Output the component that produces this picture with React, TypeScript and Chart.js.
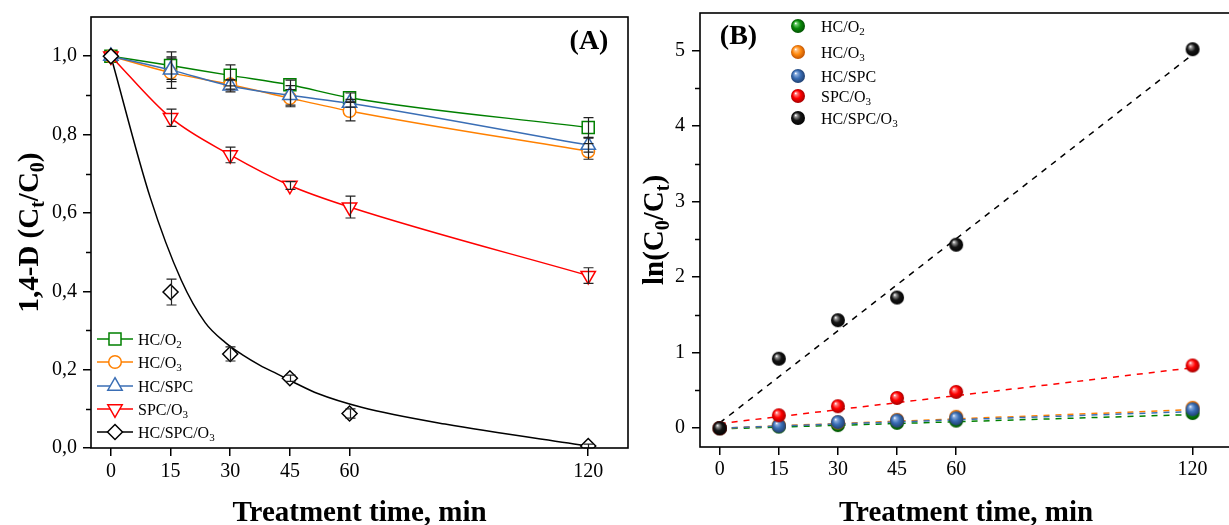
import React, { useEffect, useRef } from 'react';
import { Chart, registerables } from 'chart.js';

Chart.register(...registerables);

const SERIF = "'Liberation Serif', 'Times New Roman', Times, serif";

// ---------------- data ----------------
const times = [0, 15, 30, 45, 60, 120];
const seriesNames = ['HC/O2', 'HC/O3', 'HC/SPC', 'SPC/O3', 'HC/SPC/O3'];

// Panel A : 1,4-D (Ct/C0)
const ctHCO2 = [1.0, 0.976, 0.951, 0.927, 0.894, 0.818];
const ctHCO3 = [1.0, 0.958, 0.928, 0.893, 0.86, 0.757];
const ctHCSPC = [1.0, 0.965, 0.924, 0.9, 0.88, 0.773];
const ctSPCO3 = [1.0, 0.843, 0.748, 0.67, 0.615, 0.44];
const ctHCSPCO3 = [1.0, 0.398, 0.24, 0.178, 0.088, 0.005];

const errHCO2 = [0, 0.035, 0.027, 0.012, 0.012, 0.025];
const errHCO3 = [0, 0.04, 0.012, 0.022, 0.025, 0.02];
const errHCSPC = [0, 0.03, 0.015, 0.025, 0.01, 0.018];
const errSPCO3 = [0, 0.022, 0.02, 0.01, 0.028, 0.02];
const errHCSPCO3 = [0, 0.033, 0.018, 0.008, 0.012, 0.005];

// smooth curve drawn through HC/SPC/O3
const fitTimesA = [0, 9.9, 17.7, 23.7, 28.8, 33.2, 37.5, 41.8, 46.3, 52.0, 63.0, 84.0, 120];
const fitHCSPCO3 = [1.0, 0.639, 0.428, 0.32, 0.269, 0.237, 0.211, 0.189, 0.166, 0.139, 0.104, 0.061, 0.005];

// Panel B : ln(C0/Ct)
const lnHCO2 = [0, 0.02, 0.04, 0.07, 0.1, 0.2];
const lnHCO3 = [0, 0.04, 0.075, 0.11, 0.15, 0.27];
const lnHCSPC = [0, 0.03, 0.08, 0.1, 0.13, 0.25];
const lnSPCO3 = [0, 0.17, 0.29, 0.4, 0.48, 0.83];
const lnHCSPCO3 = [0, 0.92, 1.43, 1.73, 2.43, 5.02];

const fitTimesB = [0, 120];
const lnFitHCO2 = [-0.01, 0.18];
const lnFitHCO3 = [0.0, 0.245];
const lnFitHCSPC = [0.0, 0.22];
const lnFitSPCO3 = [0.06, 0.8];
const lnFitHCSPCO3 = [0.07, 4.95];

// ticks
const xTicks = [0, 15, 30, 45, 60, 120];
const yTicksA = [0, 0.2, 0.4, 0.6, 0.8, 1.0];
const yMinorA = [0.1, 0.3, 0.5, 0.7, 0.9];
const yTicksB = [0, 1, 2, 3, 4, 5];
const yMinorB = [0.5, 1.5, 2.5, 3.5, 4.5];

// ---------------- styles ----------------
const colors = ['#008000', '#FF8000', '#3A6EB5', '#FF0000', '#000000'];
const markerStyles = ['rect', 'circle', 'triangle', 'triangle', 'rectRot'];
const markerRot = [0, 0, 0, 180, 0];
const markerRadius = [8.5, 6.3, 8.3, 8.3, 7.5];
const ballShades = [
  ['#6fd06f', '#0a8a0a', '#004a00'],
  ['#ffc080', '#ff8a10', '#b84c00'],
  ['#8fb0e0', '#3a6eb5', '#1c3a68'],
  ['#ff8080', '#ff0000', '#980000'],
  ['#9a9a9a', '#151515', '#000000'],
];

type Seg = { t: string; sub?: boolean };

function parseLabel(s: string): Seg[] {
  const out: Seg[] = [];
  s.split(/(\d)/).forEach((p) => {
    if (!p) return;
    out.push(/^\d$/.test(p) ? { t: p, sub: true } : { t: p });
  });
  return out;
}

function drawRich(ctx: CanvasRenderingContext2D, segs: Seg[], x: number, y: number, size: number, bold: boolean, align: 'left' | 'center') {
  const f = (s: number) => `${bold ? 'bold ' : ''}${s}px ${SERIF}`;
  const subSize = Math.round(size * 0.68);
  let w = 0;
  segs.forEach((sg) => {
    ctx.font = f(sg.sub ? subSize : size);
    w += ctx.measureText(sg.t).width;
  });
  let cx = align === 'center' ? x - w / 2 : x;
  ctx.textAlign = 'left';
  ctx.textBaseline = 'alphabetic';
  ctx.fillStyle = '#000';
  segs.forEach((sg) => {
    ctx.font = f(sg.sub ? subSize : size);
    ctx.fillText(sg.t, cx, sg.sub ? y + size * 0.22 : y);
    cx += ctx.measureText(sg.t).width;
  });
}

function drawMarker(ctx: CanvasRenderingContext2D, style: string, rot: number, x: number, y: number, r: number, color: string) {
  ctx.save();
  ctx.beginPath();
  ctx.strokeStyle = color;
  ctx.fillStyle = '#fff';
  ctx.lineWidth = 1.5;
  if (style === 'rect') {
    const s = r * Math.SQRT1_2;
    ctx.rect(x - s, y - s, 2 * s, 2 * s);
  } else if (style === 'circle') {
    ctx.arc(x, y, r, 0, Math.PI * 2);
  } else if (style === 'triangle') {
    let a = (rot * Math.PI) / 180;
    ctx.moveTo(x + Math.sin(a) * r, y - Math.cos(a) * r);
    a += (2 * Math.PI) / 3;
    ctx.lineTo(x + Math.sin(a) * r, y - Math.cos(a) * r);
    a += (2 * Math.PI) / 3;
    ctx.lineTo(x + Math.sin(a) * r, y - Math.cos(a) * r);
  } else {
    ctx.moveTo(x, y - r);
    ctx.lineTo(x + r, y);
    ctx.lineTo(x, y + r);
    ctx.lineTo(x - r, y);
  }
  ctx.closePath();
  ctx.fill();
  ctx.stroke();
  ctx.restore();
}

function makeBall(shade: string[]): HTMLCanvasElement {
  const c = document.createElement('canvas');
  c.width = 16;
  c.height = 16;
  const g = c.getContext('2d')!;
  const grad = g.createRadialGradient(5.6, 5.2, 0.3, 8, 8, 7.6);
  grad.addColorStop(0, '#ffffff');
  grad.addColorStop(0.14, shade[0]);
  grad.addColorStop(0.5, shade[1]);
  grad.addColorStop(1, shade[2]);
  g.fillStyle = grad;
  g.beginPath();
  g.arc(8, 8, 7, 0, Math.PI * 2);
  g.fill();
  return c;
}

function frameAndMinor(chart: any, minor: number[]) {
  const { ctx, chartArea } = chart;
  const ys = chart.scales.y;
  ctx.save();
  ctx.strokeStyle = '#000';
  ctx.lineWidth = 1.6;
  ctx.strokeRect(chartArea.left, chartArea.top, chartArea.right - chartArea.left, chartArea.bottom - chartArea.top);
  ctx.lineWidth = 1.5;
  minor.forEach((v) => {
    const py = Math.round(ys.getPixelForValue(v)) + 0.5;
    ctx.beginPath();
    ctx.moveTo(chartArea.left - 5, py);
    ctx.lineTo(chartArea.left, py);
    ctx.stroke();
  });
  ctx.restore();
}

function axisCfg(min: number, max: number, ticks: number[], fmt: (v: number) => string, size: number, isX: boolean, pad: number) {
  return {
    type: 'linear',
    min,
    max,
    afterBuildTicks: (s: any) => {
      s.ticks = ticks.map((v) => ({ value: v }));
    },
    afterFit: (s: any) => {
      if (isX) s.height = size;
      else s.width = size;
      s.paddingLeft = 0;
      s.paddingRight = 0;
      s.paddingTop = 0;
      s.paddingBottom = 0;
    },
    ticks: {
      callback: (v: any) => fmt(Number(v)),
      font: { family: SERIF, size: 20 },
      color: '#000',
      padding: pad,
      maxRotation: 0,
      autoSkip: false,
    },
    grid: { drawOnChartArea: false, drawTicks: true, tickLength: 8, color: '#000', lineWidth: 1.5 },
    border: { display: false },
  };
}

export default function App() {
  const refA = useRef<HTMLCanvasElement>(null);
  const refB = useRef<HTMLCanvasElement>(null);

  useEffect(() => {
    const seriesA = [ctHCO2, ctHCO3, ctHCSPC, ctSPCO3, ctHCSPCO3];
    const errA = [errHCO2, errHCO3, errHCSPC, errSPCO3, errHCSPCO3];
    const seriesB = [lnHCO2, lnHCO3, lnHCSPC, lnSPCO3, lnHCSPCO3];
    const fitsB = [lnFitHCO2, lnFitHCO3, lnFitHCSPC, lnFitSPCO3, lnFitHCSPCO3];
    const balls = ballShades.map(makeBall);

    const dsA: any[] = seriesA.map((vals, i) => ({
      type: 'line',
      label: seriesNames[i],
      data: times.map((t, j) => ({ x: t, y: vals[j] })),
      borderColor: colors[i],
      backgroundColor: '#fff',
      pointBackgroundColor: '#fff',
      pointBorderColor: colors[i],
      pointBorderWidth: 1.5,
      pointStyle: markerStyles[i],
      pointRotation: markerRot[i],
      pointRadius: markerRadius[i],
      borderWidth: 1.5,
      showLine: i !== 4,
      cubicInterpolationMode: 'monotone',
      order: 4 - i,
    }));
    dsA.push({
      type: 'line',
      label: 'fit',
      data: fitTimesA.map((t, j) => ({ x: t, y: fitHCSPCO3[j] })),
      borderColor: '#000',
      borderWidth: 1.5,
      pointRadius: 0,
      cubicInterpolationMode: 'monotone',
      order: 10,
    });

    const pluginA = {
      id: 'panelA',
      afterDatasetsDraw(chart: any) {
        const { ctx } = chart;
        const xs = chart.scales.x;
        const ys = chart.scales.y;
        ctx.save();
        ctx.strokeStyle = '#222';
        ctx.lineWidth = 1.2;
        seriesA.forEach((vals, i) => {
          vals.forEach((v, j) => {
            const e = errA[i][j];
            if (!e) return;
            const px = Math.round(xs.getPixelForValue(times[j])) + 0.5;
            const t = ys.getPixelForValue(v + e);
            const b = ys.getPixelForValue(v - e);
            ctx.beginPath();
            ctx.moveTo(px, t);
            ctx.lineTo(px, b);
            ctx.moveTo(px - 5, t);
            ctx.lineTo(px + 5, t);
            ctx.moveTo(px - 5, b);
            ctx.lineTo(px + 5, b);
            ctx.stroke();
          });
        });
        ctx.restore();
      },
      afterDraw(chart: any) {
        const { ctx, chartArea } = chart;
        frameAndMinor(chart, yMinorA);
        ctx.save();
        // legend
        const rows = [339, 362, 386, 409, 432];
        seriesNames.forEach((n, i) => {
          ctx.strokeStyle = colors[i];
          ctx.lineWidth = 1.5;
          ctx.beginPath();
          ctx.moveTo(97, rows[i]);
          ctx.lineTo(133, rows[i]);
          ctx.stroke();
          drawMarker(ctx, markerStyles[i], markerRot[i], 115, rows[i], markerRadius[i], colors[i]);
          drawRich(ctx, parseLabel(n), 138, rows[i] + 5.5, 16, false, 'left');
        });
        // panel label
        drawRich(ctx, [{ t: '(A)' }], 589, 49, 28, true, 'center');
        // x title
        drawRich(ctx, [{ t: 'Treatment time, min' }], (chartArea.left + chartArea.right) / 2, 521, 29, true, 'center');
        // y title
        ctx.translate(28, (chartArea.top + chartArea.bottom) / 2);
        ctx.rotate(-Math.PI / 2);
        drawRich(ctx, [{ t: '1,4-D (C' }, { t: 't', sub: true }, { t: '/C' }, { t: '0', sub: true }, { t: ')' }], 0, 10, 29, true, 'center');
        ctx.restore();
      },
    };

    const chartA = new Chart(refA.current!, {
      type: 'line',
      data: { datasets: dsA },
      options: {
        animation: false,
        responsive: false,
        layout: { padding: { left: 0, right: 12, top: 17, bottom: 0 } },
        plugins: { legend: { display: false }, tooltip: { enabled: false } },
        scales: {
          x: axisCfg(-5, 130, xTicks, (v) => String(v), 77, true, 4),
          y: axisCfg(0, 1.1, yTicksA, (v) => v.toFixed(1).replace('.', ','), 91, false, 6),
        },
      } as any,
      plugins: [pluginA],
    } as any);

    const dsB: any[] = [];
    seriesB.forEach((vals, i) => {
      dsB.push({
        type: 'line',
        label: seriesNames[i],
        data: times.map((t, j) => ({ x: t, y: vals[j] })),
        showLine: false,
        pointStyle: balls[i],
        pointRadius: 7,
        order: 4 - i,
      });
    });
    fitsB.forEach((vals, i) => {
      dsB.push({
        type: 'line',
        label: seriesNames[i] + ' fit',
        data: fitTimesB.map((t, j) => ({ x: t, y: vals[j] })),
        borderColor: colors[i],
        borderWidth: 1.5,
        borderDash: [6, 6],
        pointRadius: 0,
        order: 20 - i,
      });
    });

    const pluginB = {
      id: 'panelB',
      afterDraw(chart: any) {
        const { ctx, chartArea } = chart;
        frameAndMinor(chart, yMinorB);
        ctx.save();
        const rows = [26, 52, 76, 96, 118];
        seriesNames.forEach((n, i) => {
          ctx.drawImage(balls[i], 158 - 8, rows[i] - 8);
          drawRich(ctx, parseLabel(n), 181, rows[i] + 5.5, 16, false, 'left');
        });
        drawRich(ctx, [{ t: '(B)' }], 98.5, 44, 28, true, 'center');
        drawRich(ctx, [{ t: 'Treatment time, min' }], (chartArea.left + chartArea.right) / 2, 521, 29, true, 'center');
        ctx.translate(13, (chartArea.top + chartArea.bottom) / 2);
        ctx.rotate(-Math.PI / 2);
        drawRich(ctx, [{ t: 'ln(C' }, { t: '0', sub: true }, { t: '/C' }, { t: 't', sub: true }, { t: ')' }], 0, 10, 29, true, 'center');
        ctx.restore();
      },
    };

    const chartB = new Chart(refB.current!, {
      type: 'line',
      data: { datasets: dsB },
      options: {
        animation: false,
        responsive: false,
        layout: { padding: { left: 0, right: 8, top: 13, bottom: 0 } },
        plugins: { legend: { display: false }, tooltip: { enabled: false } },
        scales: {
          x: axisCfg(-5, 130, xTicks, (v) => String(v), 78, true, 3),
          y: axisCfg(-0.25, 5.5, yTicksB, (v) => String(v), 60, false, 7),
        },
      } as any,
      plugins: [pluginB],
    } as any);

    return () => {
      chartA.destroy();
      chartB.destroy();
    };
  }, []);

  return (
    <div style={{ position: 'fixed', left: 0, top: 0, width: 1229, height: 525, overflow: 'hidden', background: '#fff' }}>
      <canvas ref={refA} width={640} height={525} style={{ position: 'absolute', left: 0, top: 0, width: 640, height: 525 }} />
      <canvas ref={refB} width={600} height={525} style={{ position: 'absolute', left: 640, top: 0, width: 600, height: 525 }} />
    </div>
  );
}
